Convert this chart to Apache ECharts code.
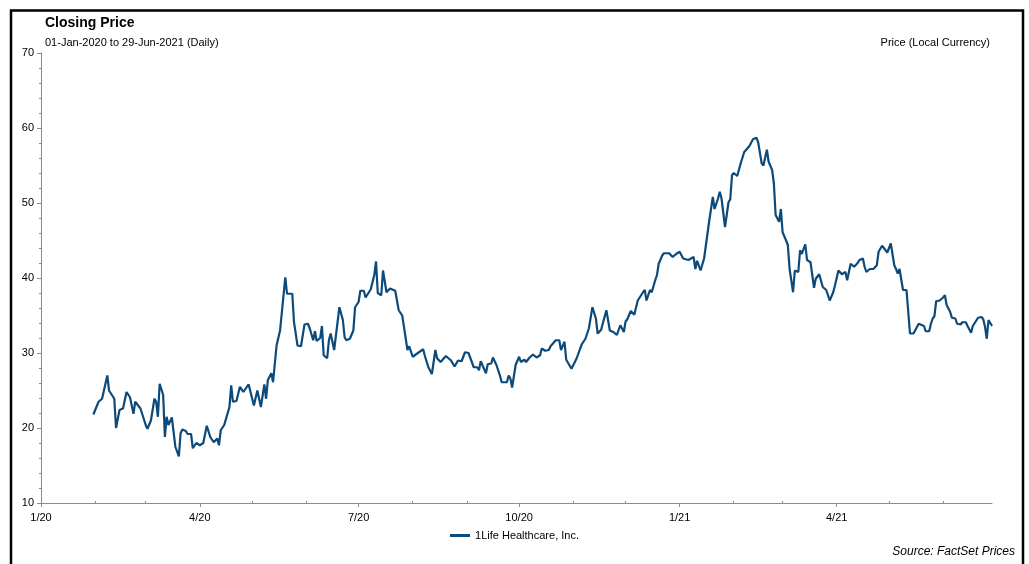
<!DOCTYPE html>
<html>
<head>
<meta charset="utf-8">
<script src="https://cdn.jsdelivr.net/npm/echarts@6/dist/echarts.min.js"></script>
<style>
html,body{margin:0;padding:0;background:#fff;}
#chart{width:1029px;height:564px;}
</style>
</head>
<body>
<div id="chart"></div>
<script>
const seriesName = '1Life Healthcare, Inc.';
const dates = [
'2020-01-31','2020-02-03','2020-02-05','2020-02-08','2020-02-09','2020-02-12','2020-02-13','2020-02-15','2020-02-17','2020-02-19',
'2020-02-21','2020-02-23','2020-02-24','2020-02-27','2020-03-01','2020-03-02','2020-03-04','2020-03-06','2020-03-07','2020-03-08',
'2020-03-09','2020-03-11','2020-03-12','2020-03-13','2020-03-14','2020-03-16','2020-03-18','2020-03-20','2020-03-21','2020-03-22',
'2020-03-24','2020-03-25','2020-03-27','2020-03-28','2020-03-30','2020-04-01','2020-04-03','2020-04-05','2020-04-07','2020-04-09',
'2020-04-11','2020-04-12','2020-04-13','2020-04-15','2020-04-16','2020-04-18','2020-04-19','2020-04-20','2020-04-22','2020-04-24',
'2020-04-26','2020-04-28','2020-04-29','2020-05-02','2020-05-04','2020-05-06','2020-05-08','2020-05-09','2020-05-10','2020-05-12',
'2020-05-13','2020-05-15','2020-05-17','2020-05-20','2020-05-21','2020-05-24','2020-05-25','2020-05-27','2020-05-29','2020-05-31',
'2020-06-02','2020-06-03','2020-06-05','2020-06-06','2020-06-07','2020-06-09','2020-06-10','2020-06-11','2020-06-13','2020-06-14',
'2020-06-15','2020-06-17','2020-06-20','2020-06-22','2020-06-23','2020-06-24','2020-06-26','2020-06-27','2020-06-28','2020-06-29',
'2020-07-01','2020-07-02','2020-07-04','2020-07-05','2020-07-06','2020-07-08','2020-07-10','2020-07-11','2020-07-12','2020-07-14',
'2020-07-15','2020-07-17','2020-07-19','2020-07-20','2020-07-22','2020-07-24','2020-07-26','2020-07-27','2020-07-29','2020-07-30',
'2020-08-01','2020-08-04','2020-08-05','2020-08-07','2020-08-08','2020-08-10','2020-08-12','2020-08-14','2020-08-15','2020-08-17',
'2020-08-20','2020-08-21','2020-08-23','2020-08-25','2020-08-26','2020-08-27','2020-08-29','2020-08-31','2020-09-02','2020-09-05',
'2020-09-07','2020-09-08','2020-09-09','2020-09-12','2020-09-13','2020-09-15','2020-09-16','2020-09-18','2020-09-20','2020-09-21',
'2020-09-24','2020-09-25','2020-09-26','2020-09-27','2020-09-29','2020-09-30','2020-10-01','2020-10-02','2020-10-04','2020-10-05',
'2020-10-07','2020-10-09','2020-10-11','2020-10-13','2020-10-14','2020-10-16','2020-10-18','2020-10-19','2020-10-22','2020-10-24',
'2020-10-25','2020-10-27','2020-10-28','2020-10-29','2020-10-31','2020-11-01','2020-11-03','2020-11-05','2020-11-06','2020-11-08',
'2020-11-10','2020-11-12','2020-11-14','2020-11-15','2020-11-17','2020-11-18','2020-11-20','2020-11-22','2020-11-24','2020-11-26',
'2020-11-27','2020-11-28','2020-11-30','2020-12-01','2020-12-02','2020-12-04','2020-12-05','2020-12-06','2020-12-08','2020-12-09',
'2020-12-11','2020-12-12','2020-12-13','2020-12-15','2020-12-16','2020-12-18','2020-12-19','2020-12-20','2020-12-22','2020-12-23',
'2020-12-26','2020-12-28','2020-12-30','2021-01-01','2021-01-02','2021-01-03','2021-01-06','2021-01-07','2021-01-09','2021-01-10',
'2021-01-11','2021-01-13','2021-01-15','2021-01-16','2021-01-18','2021-01-20','2021-01-21','2021-01-23','2021-01-24','2021-01-25',
'2021-01-27','2021-01-29','2021-01-30','2021-01-31','2021-02-01','2021-02-03','2021-02-05','2021-02-07','2021-02-08','2021-02-10',
'2021-02-12','2021-02-14','2021-02-15','2021-02-17','2021-02-18','2021-02-20','2021-02-21','2021-02-23','2021-02-24','2021-02-25',
'2021-02-27','2021-02-28','2021-03-01','2021-03-03','2021-03-04','2021-03-05','2021-03-06','2021-03-07','2021-03-08','2021-03-10',
'2021-03-11','2021-03-12','2021-03-14','2021-03-15','2021-03-17','2021-03-19','2021-03-20','2021-03-22','2021-03-23','2021-03-24',
'2021-03-26','2021-03-28','2021-03-30','2021-03-31','2021-04-02','2021-04-03','2021-04-04','2021-04-06','2021-04-07','2021-04-09',
'2021-04-10','2021-04-11','2021-04-13','2021-04-14','2021-04-16','2021-04-17','2021-04-18','2021-04-20','2021-04-22','2021-04-24',
'2021-04-25','2021-04-27','2021-04-28','2021-04-30','2021-05-01','2021-05-02','2021-05-04','2021-05-05','2021-05-06','2021-05-07',
'2021-05-09','2021-05-10','2021-05-11','2021-05-13','2021-05-15','2021-05-16','2021-05-18','2021-05-19','2021-05-21','2021-05-22',
'2021-05-24','2021-05-25','2021-05-26','2021-05-27','2021-05-28','2021-05-30','2021-06-01','2021-06-02','2021-06-03','2021-06-05',
'2021-06-06','2021-06-08','2021-06-09','2021-06-11','2021-06-12','2021-06-14','2021-06-15','2021-06-17','2021-06-18','2021-06-19',
'2021-06-21','2021-06-23','2021-06-24','2021-06-25','2021-06-26','2021-06-27','2021-06-29'
];
const prices = [
21.8,23.5,23.9,27.0,25.0,23.9,20.0,22.4,22.6,24.8,
24.1,21.9,23.5,22.6,20.4,19.9,21.0,23.9,23.5,21.5,
25.9,24.4,18.8,21.5,20.4,21.4,17.5,16.2,19.3,19.8,
19.6,19.2,19.2,17.3,18.0,17.7,18.0,20.3,18.8,18.1,
18.6,17.7,19.7,20.4,20.3,22.8,25.7,23.5,23.6,25.5,
24.8,25.5,25.8,23.0,25.0,22.8,25.8,23.9,26.4,27.3,
26.1,31.0,33.0,40.1,37.9,37.9,34.1,31.0,30.9,33.8,
33.9,33.3,31.7,32.9,31.6,32.0,33.6,29.7,29.3,31.7,
32.6,30.4,36.1,34.4,32.1,31.7,31.9,31.8,33.0,36.1,
36.8,38.3,38.3,37.4,37.6,38.5,40.4,42.2,38.0,37.7,
41.0,38.1,38.6,38.5,38.3,35.7,35.0,33.5,30.4,30.9,
29.5,30.0,30.0,30.5,29.6,28.1,27.2,30.4,29.3,28.8,
29.6,29.5,29.0,28.2,28.2,29.0,28.9,30.1,30.0,28.1,
28.1,27.7,28.9,27.3,28.5,28.6,29.4,28.4,27.0,26.1,
26.1,27.0,26.6,25.4,28.4,28.2,29.5,28.8,29.1,28.8,
29.4,29.8,29.4,29.7,30.6,30.3,30.4,30.9,31.7,31.7,
30.4,31.5,29.1,28.9,27.9,28.1,29.3,30.6,31.2,31.9,
33.3,36.1,34.6,32.6,33.1,33.3,35.7,33.0,32.8,32.4,
32.6,33.7,32.8,34.2,34.5,35.6,35.8,35.1,37.0,37.0,
38.1,38.4,37.0,38.4,38.1,39.7,40.4,41.9,43.0,43.3,
43.3,42.8,43.2,43.5,43.4,42.6,42.4,42.2,42.8,41.2,
42.3,41.0,42.6,42.6,47.7,50.8,49.2,50.6,51.5,50.6,
46.8,50.1,50.5,53.7,54.0,53.6,55.3,56.8,56.7,57.6,
58.5,58.7,58.1,55.3,55.0,57.1,55.5,54.4,52.6,48.4,
47.5,49.2,46.1,45.0,44.4,41.2,41.0,38.1,41.0,40.8,
43.7,43.2,44.5,42.4,42.1,38.7,39.9,40.5,40.5,38.8,
38.4,37.0,38.1,39.0,41.0,41.0,40.5,40.8,39.7,41.9,
42.0,41.5,42.0,42.4,42.6,41.5,40.8,41.2,41.2,41.7,
43.5,44.3,44.5,43.4,43.4,44.6,41.7,41.2,40.6,41.2,
38.4,38.6,38.4,32.6,32.6,32.8,33.9,33.8,33.6,32.9,
32.9,33.9,34.6,34.9,36.9,37.0,37.4,37.7,36.4,35.5,
34.7,34.6,33.9,33.8,34.1,34.1,33.6,32.7,33.6,33.6,
34.7,34.8,34.5,33.5,31.9,34.4,33.6
];
const xLabelDates = ['2020-01-01','2020-04-01','2020-07-01','2020-10-01','2021-01-01','2021-04-01'];
const xMinorTickDates = ['2020-02-01','2020-03-01','2020-05-01','2020-06-01','2020-08-01','2020-09-01','2020-11-01','2020-12-01','2021-02-01','2021-03-01','2021-05-01','2021-06-01'];
const xStart = '2020-01-01';
const xEnd = '2021-06-29';
const yMin = 10, yMax = 70, yStep = 10;

function toTs(s){ const p = s.split('-').map(Number); return Date.UTC(p[0], p[1]-1, p[2]); }
const seriesData = dates.map((d,i)=>[toTs(d), prices[i]]);
const FONT = '"Liberation Sans", Arial, sans-serif';
const axisGray = '#8c8c8c';

const chart = echarts.init(document.getElementById('chart'), null, {renderer:'canvas'});
chart.setOption({
  animation: false,
  backgroundColor: '#fff',
  textStyle: {fontFamily: FONT},
  grid: {left: 41, right: 37, top: 53, bottom: 61, containLabel: false},
  legend: {
    data: [seriesName], bottom: 18, left: 'center',
    icon: 'rect', itemWidth: 20, itemHeight: 3, itemGap: 10,
    textStyle: {fontFamily: FONT, fontSize: 11, color: '#000'}
  },
  xAxis: [{
    type: 'value', min: toTs(xStart), max: toTs(xEnd), scale: true,
    axisLine: {show: true, onZero: false, lineStyle: {color: axisGray, width: 1}},
    axisTick: {show: true, length: 4, lineStyle: {color: axisGray}, customValues: xLabelDates.map(toTs)},
    axisLabel: {
      show: true, color: '#000', fontSize: 11, fontFamily: FONT, margin: 9,
      customValues: xLabelDates.map(toTs),
      formatter: function(v){ const d = new Date(v); return (d.getUTCMonth()+1) + '/' + String(d.getUTCFullYear()).slice(2); }
    },
    splitLine: {show: false}
  },{
    type: 'value', min: toTs(xStart), max: toTs(xEnd), scale: true, position: 'bottom',
    axisLine: {show: false, onZero: false},
    axisTick: {show: true, inside: true, length: 2, lineStyle: {color: axisGray}, customValues: xMinorTickDates.map(toTs)},
    axisLabel: {show: false, customValues: xMinorTickDates.map(toTs)},
    splitLine: {show: false}
  }],
  yAxis: {
    type: 'value', min: yMin, max: yMax, interval: yStep,
    axisLine: {show: true, lineStyle: {color: axisGray, width: 1}},
    axisTick: {show: true, length: 4, lineStyle: {color: axisGray}},
    minorTick: {show: true, splitNumber: 5, length: 2, lineStyle: {color: axisGray}},
    axisLabel: {color: '#000', fontSize: 11, fontFamily: FONT, margin: 7},
    splitLine: {show: false}
  },
  series: [{
    name: seriesName, type: 'line', xAxisIndex: 0, data: seriesData,
    showSymbol: false, symbol: 'none',
    lineStyle: {color: '#0b4a7a', width: 2.2},
    itemStyle: {color: '#0b4a7a'}
  }],
  graphic: [
    {type: 'rect', shape: {x: 11, y: 10.5, width: 1012, height: 620}, style: {fill: 'none', stroke: '#000', lineWidth: 2.5}, silent: true},
    {type: 'text', left: 45, top: 16, style: {text: 'Closing Price', font: 'bold 14px ' + FONT, fill: '#000'}},
    {type: 'text', left: 45, top: 37, style: {text: '01-Jan-2020 to 29-Jun-2021 (Daily)', font: '11px ' + FONT, fill: '#000'}},
    {type: 'text', right: 39, top: 37, style: {text: 'Price (Local Currency)', font: '11px ' + FONT, fill: '#000'}},
    {type: 'text', right: 14, top: 546, style: {text: 'Source: FactSet Prices', font: 'italic 12px ' + FONT, fill: '#000'}}
  ]
});
</script>
</body>
</html>
